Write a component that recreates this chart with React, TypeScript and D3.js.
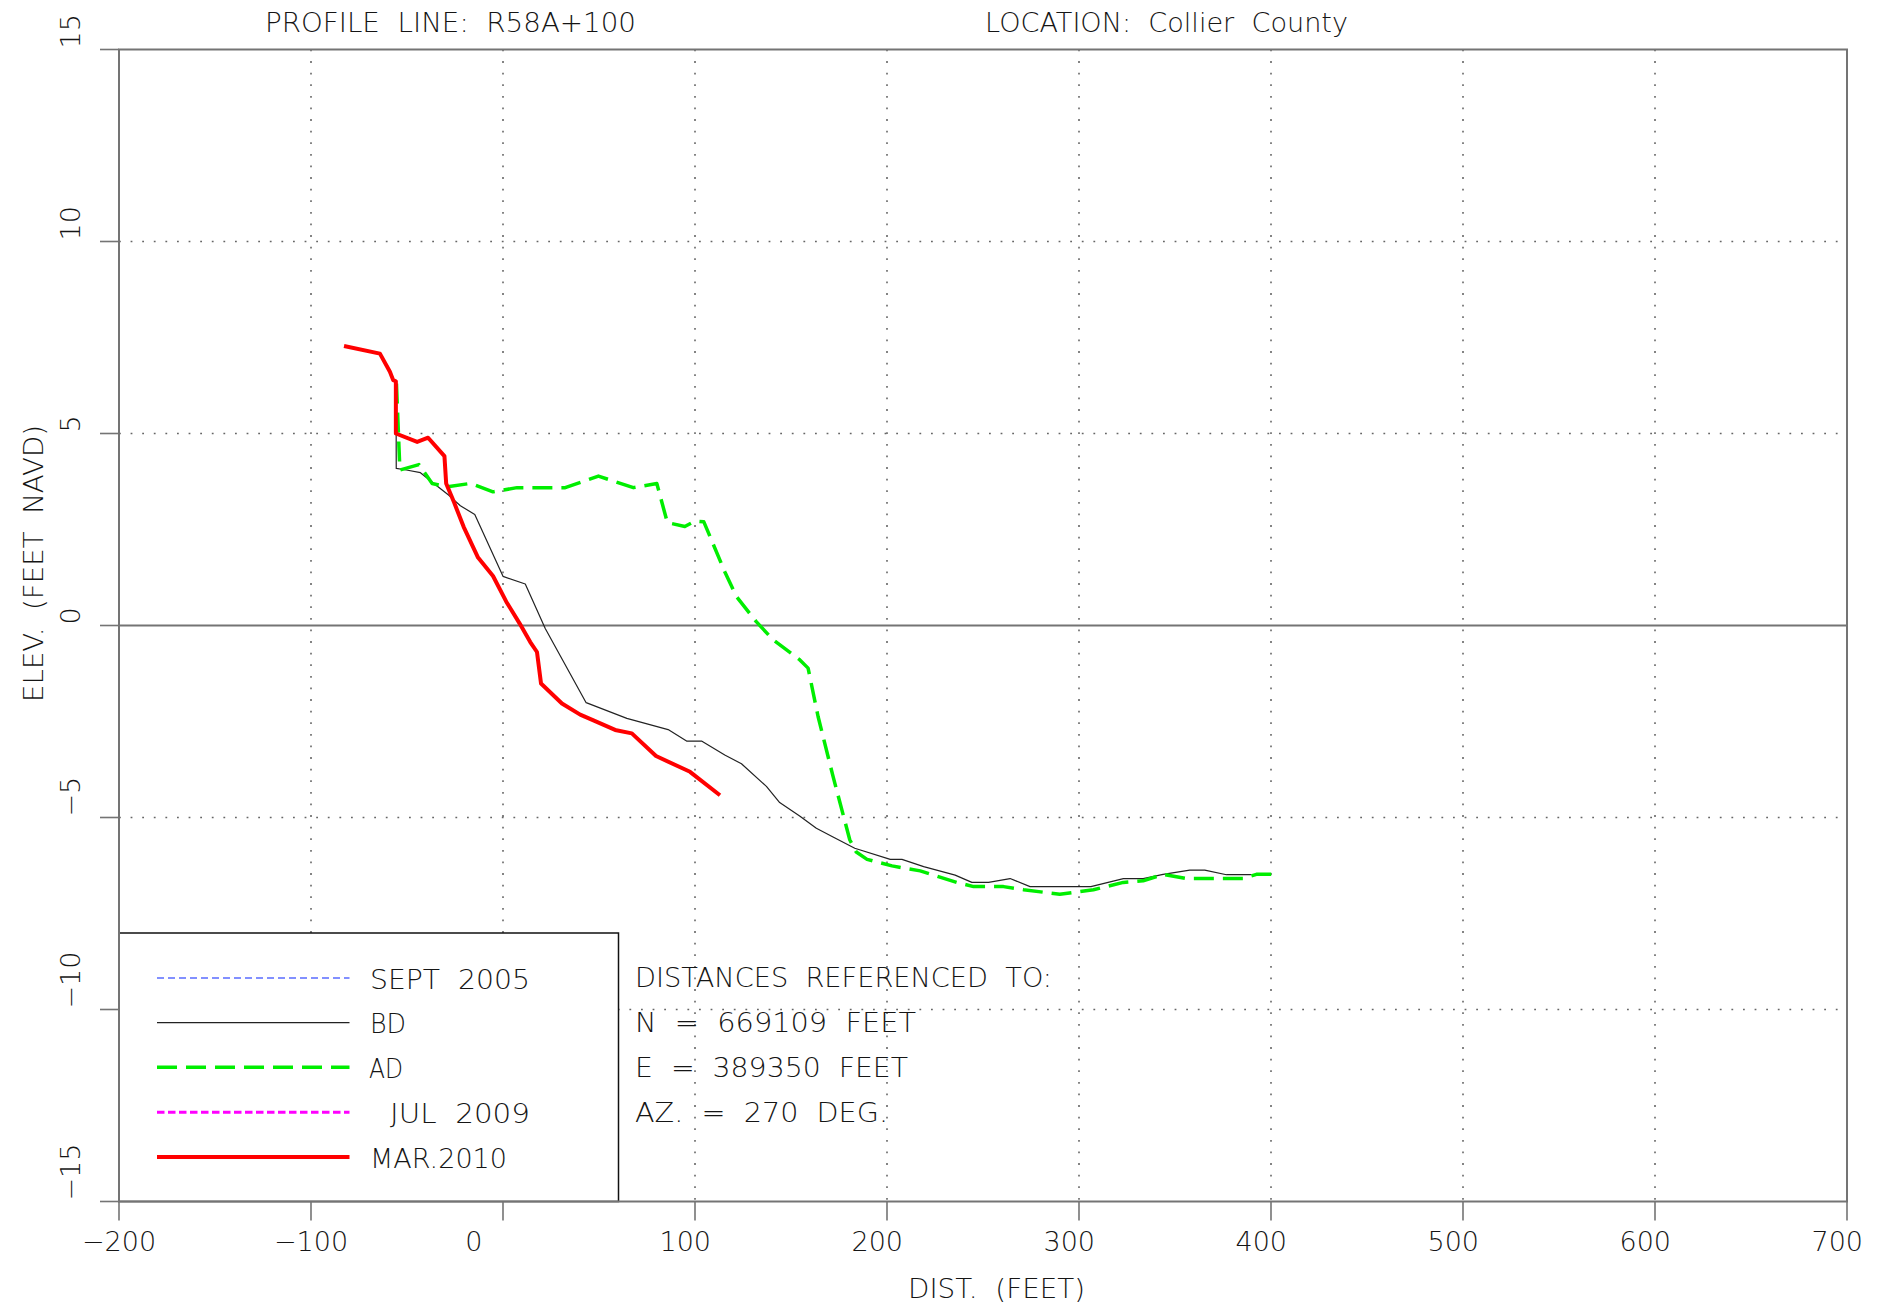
import React from 'react';
import * as d3 from 'd3';

// profile survey data: [distance (ft), elevation (ft NAVD)]
const bdProfile: [number, number][] = [
  [-55.7, 6.3], [-55.6, 4.09], [-50.3, 4.05], [-43.0, 3.98], [-36.0, 3.7], [-28.2, 3.39],
  [-22.2, 3.12], [-14.7, 2.89], [0, 1.28], [11.6, 1.08], [22.0, -0.08], [43.3, -2.01],
  [64.5, -2.42], [86.0, -2.71], [95.6, -3.01], [103.4, -3.01], [115.5, -3.37], [124.2, -3.6],
  [137.2, -4.19], [144.1, -4.61], [154.5, -4.96], [163.2, -5.28], [171.9, -5.51], [183.2, -5.8],
  [201.7, -6.09], [207.8, -6.09], [219.1, -6.28], [235.5, -6.5], [244.2, -6.69], [252.9, -6.69],
  [264.1, -6.59], [274.5, -6.8], [306.2, -6.8], [323.1, -6.59], [333.4, -6.59], [343.8, -6.48],
  [357.7, -6.37], [365.5, -6.37], [376.8, -6.49], [389.8, -6.49],
];

const adProfile: [number, number][] = [
  [-55.5, 6.3], [-53.7, 4.05], [-43.8, 4.19], [-36.9, 3.7], [-29.1, 3.61], [-17.0, 3.7],
  [-5.2, 3.48], [7.3, 3.59], [32.4, 3.59], [49.7, 3.89], [67.9, 3.59], [80.1, 3.7],
  [85.6, 2.68], [94.7, 2.58], [100, 2.72], [104.6, 2.7], [115.5, 1.4], [121.5, 0.76],
  [131.9, 0.1], [140.6, -0.37], [154.5, -0.89], [158.9, -1.11], [164.1, -2.37], [171.9, -3.93],
  [180.6, -5.58], [184.0, -5.9], [189.6, -6.09], [202.6, -6.26], [217.3, -6.39], [236.4, -6.69],
  [245.1, -6.8], [260.7, -6.8], [271.1, -6.88], [290.0, -7.0], [307.5, -6.88], [323.1, -6.69],
  [333.4, -6.65], [343.8, -6.48], [355.9, -6.59], [385.4, -6.59], [392.4, -6.48], [403.6, -6.48],
];

const mar2010Profile: [number, number][] = [
  [-82.8, 7.28], [-64.1, 7.08], [-58.9, 6.61], [-57.2, 6.39], [-55.8, 6.36], [-55.8, 5.0],
  [-44.7, 4.78], [-39.0, 4.89], [-30.5, 4.41], [-29.6, 3.7], [-25.6, 3.22], [-20.5, 2.57],
  [-13.0, 1.77], [-5.2, 1.29], [1.7, 0.62], [8.7, 0.05], [14.2, -0.43], [17.7, -0.69],
  [19.8, -1.51], [30.7, -2.03], [40.2, -2.32], [47.1, -2.47], [58.4, -2.72], [67.1, -2.81],
  [79.7, -3.4], [97.4, -3.81], [113.0, -4.42],
];

const sept2005Profile: [number, number][] = [];
const jul2009Profile: [number, number][] = [];

const xTicks = [-200, -100, 0, 100, 200, 300, 400, 500, 600, 700];
const yTicks = [15, 10, 5, 0, -5, -10, -15];
const xGrid = [-100, 0, 100, 200, 300, 400, 500, 600];
const yGrid = [10, 5, -5, -10];

const legendItems = [
  { label: 'SEPT  2005', color: '#5a6cff', width: 1.5, dash: '7 4', data: sept2005Profile, tx: 370, tl: 160 },
  { label: 'BD', color: '#222', width: 1.2, dash: null, data: bdProfile, tx: 370, tl: 36 },
  { label: 'AD', color: '#00ee00', width: 3.5, dash: '20 9', data: adProfile, tx: 369, tl: 34 },
  { label: 'JUL  2009', color: '#ff00ff', width: 3, dash: '7.5 3.5', data: jul2009Profile, tx: 390, tl: 140 },
  { label: 'MAR.2010', color: '#ff0000', width: 4, dash: null, data: mar2010Profile, tx: 370, tl: 137 },
];

const infoLines = [
  { text: 'DISTANCES  REFERENCED  TO:', tl: 417 },
  { text: 'N  =  669109  FEET', tl: 281 },
  { text: 'E  =  389350  FEET', tl: 273 },
  { text: 'AZ.  =  270  DEG.', tl: 253 },
];

const W = 1887;
const H = 1307;
const left = 119;
const right = 1847;
const top = 49.5;
const bottom = 1201.5;

const font = '"DejaVu Sans", sans-serif';
const txt = '#151515';
const spine = '#747474';

const fmt = (v: number) => (v < 0 ? '\u2212' + Math.abs(v) : String(v));

export default function App() {
  const x = d3.scaleLinear().domain([-200, 700]).range([left, right]);
  const y = d3.scaleLinear().domain([-15, 15]).range([bottom, top]);
  const line = d3.line<[number, number]>().x((d) => x(d[0])).y((d) => y(d[1]));

  const legendRows = [978, 1022.7, 1067.3, 1112.3, 1157];
  const infoRows = [986.7, 1031.7, 1076.7, 1121.7];
  const textStyle: React.CSSProperties = { whiteSpace: 'pre' };

  return (
    <svg
      width={W}
      height={H}
      style={{ position: 'absolute', left: 0, top: 0, display: 'block', background: '#fff' }}
      fontFamily={font}
      fontWeight={200}
    >
      {/* dotted grid */}
      {xGrid.map((v) => (
        <line key={'gx' + v} x1={x(v)} x2={x(v)} y1={top} y2={bottom}
          stroke="#666" strokeWidth={1.6} strokeDasharray="1.8 9.8" />
      ))}
      {yGrid.map((v) => (
        <line key={'gy' + v} x1={left} x2={right} y1={y(v)} y2={y(v)}
          stroke="#666" strokeWidth={1.6} strokeDasharray="1.8 9.8" />
      ))}
      <line x1={left} x2={right} y1={y(0)} y2={y(0)} stroke={spine} strokeWidth={2} />

      {/* reference info */}
      {infoLines.map((d, i) => (
        <text key={d.text} x={635} y={infoRows[i]} fontSize={27} fill={txt}
          textLength={d.tl} lengthAdjust="spacingAndGlyphs" style={textStyle}>{d.text}</text>
      ))}

      {/* profiles */}
      {legendItems.map((d) =>
        d.data.length ? (
          <path key={'p' + d.label} d={line(d.data) || ''} fill="none" stroke={d.color}
            strokeWidth={d.width} strokeDasharray={d.dash || undefined} strokeLinejoin="round" />
        ) : null,
      )}

      {/* legend box */}
      <rect x={left} y={933} width={618.5 - left} height={bottom - 933} fill="#fff" stroke="#111" strokeWidth={1.5} />
      {legendItems.map((d, i) => (
        <g key={'l' + d.label}>
          <line x1={157} x2={349.5} y1={legendRows[i]} y2={legendRows[i]} stroke={d.color}
            strokeWidth={d.width} strokeDasharray={d.dash || undefined} />
          <text x={d.tx} y={legendRows[i] + 10.5} fontSize={27} fill={txt}
            textLength={d.tl} lengthAdjust="spacingAndGlyphs" style={textStyle}>{d.label}</text>
        </g>
      ))}

      {/* frame */}
      <rect x={left} y={top} width={right - left} height={bottom - top} fill="none" stroke={spine} strokeWidth={2} />

      {/* ticks */}
      {xTicks.map((v) => (
        <g key={'tx' + v}>
          <line x1={x(v)} x2={x(v)} y1={bottom} y2={bottom + 19} stroke={spine} strokeWidth={1.6} />
          <text x={x(v) - (4 - fmt(v).length) * 9.7} y={1251} textAnchor="middle" fontSize={27} fill={txt}>
            {fmt(v)}
          </text>
        </g>
      ))}
      {yTicks.map((v) => (
        <g key={'ty' + v}>
          <line x1={left - 19} x2={left} y1={y(v)} y2={y(v)} stroke={spine} strokeWidth={1.6} />
          <text transform={`translate(80,${y(v) - 1}) rotate(-90)`} textAnchor="start" fontSize={27} fill={txt}>
            {fmt(v)}
          </text>
        </g>
      ))}

      {/* titles */}
      <text x={265} y={31.5} fontSize={27} fill={txt} textLength={371} lengthAdjust="spacingAndGlyphs" style={textStyle}>
        PROFILE  LINE:  R58A+100
      </text>
      <text x={985} y={31.5} fontSize={27} fill={txt} textLength={363} lengthAdjust="spacingAndGlyphs" style={textStyle}>
        LOCATION:  Collier  County
      </text>
      <text x={908} y={1298} fontSize={27} fill={txt} textLength={177} lengthAdjust="spacingAndGlyphs" style={textStyle}>
        DIST.  (FEET)
      </text>
      <text transform="translate(43,702) rotate(-90)" fontSize={27} fill={txt} textLength={277}
        lengthAdjust="spacingAndGlyphs" style={textStyle}>
        ELEV.  (FEET  NAVD)
      </text>
    </svg>
  );
}
